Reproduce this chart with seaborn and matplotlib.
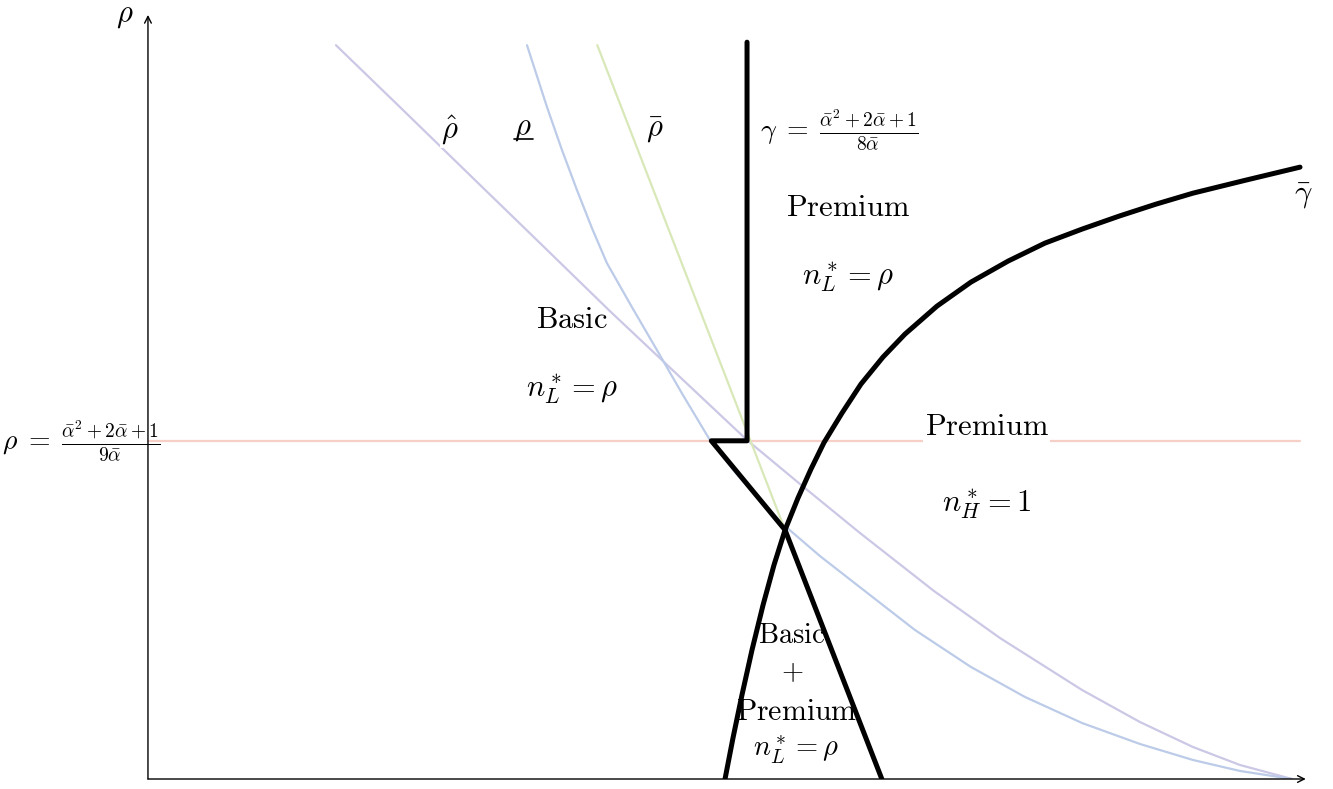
import matplotlib
matplotlib.use("Agg")
import matplotlib.pyplot as plt
import seaborn as sns

sns.set_theme(style="white")
plt.rcParams["mathtext.fontset"] = "cm"
plt.rcParams["font.family"] = ["DejaVu Serif", "DejaVu Sans"]
plt.rcParams["text.color"] = "black"

# axes units: x in [0, 1], rho in [0, 1]
rho_line = 0.459  # rho = (a^2+2a+1)/(9a)

# rho hat (lavender)
rhohat_x = [0.1632, 0.2188, 0.2795, 0.3403, 0.4010, 0.4618, 0.5200, 0.5660, 0.6181, 0.6823,
            0.7396, 0.8108, 0.8611, 0.9071, 0.9479, 0.9931]
rhohat_y = [0.9959, 0.9118, 0.8195, 0.7273, 0.6350, 0.5455, 0.4600, 0.4003, 0.3338, 0.2551,
            0.1913, 0.1208, 0.0773, 0.0434, 0.0190, 0.0]

# underline rho (light blue)
rholow_x = [0.3290, 0.3464, 0.3594, 0.3724, 0.3854, 0.3984, 0.4201, 0.4418, 0.4644, 0.4878,
            0.5095, 0.5313, 0.5530, 0.5833, 0.6189, 0.6658, 0.7144, 0.7613, 0.8108, 0.8611,
            0.9071, 0.9479, 0.9931]
rholow_y = [0.9959, 0.9118, 0.8535, 0.7992, 0.7476, 0.7001, 0.6404, 0.5821, 0.5210, 0.4600,
            0.4166, 0.3772, 0.3433, 0.3026, 0.2592, 0.2022, 0.1520, 0.1113, 0.0760, 0.0475,
            0.0258, 0.0109, 0.0]

# bar rho (light green)
rhobar_x = [0.390, 0.553]
rhobar_y = [0.996, 0.338]

# black frontier: gamma vertical, step, then along rho_low and rho_bar
front_x = [0.520, 0.520, 0.489, 0.553, 0.637]
front_y = [1.000, 0.459, 0.459, 0.338, 0.0]

# gamma bar curve
gbar_x = [0.5009, 0.5078, 0.5156, 0.5243, 0.5339, 0.5434, 0.5530, 0.5642, 0.5755, 0.5868,
          0.6024, 0.6189, 0.6380, 0.6571, 0.6849, 0.7144, 0.7465, 0.7786, 0.8108, 0.8429,
          0.8750, 0.9071, 0.9531, 1.0]
gbar_y = [0.0, 0.0556, 0.1140, 0.1750, 0.2361, 0.2904, 0.3379, 0.3813, 0.4206, 0.4566,
          0.4966, 0.5360, 0.5726, 0.6038, 0.6418, 0.6744, 0.7028, 0.7273, 0.7463, 0.7639,
          0.7802, 0.7951, 0.8128, 0.8304]

fig = plt.figure(figsize=(13.33, 7.89), dpi=100)
ax = fig.add_axes([0.1110, 0.01267, 0.8729, 0.9759])
ax.set_xlim(0, 1.01)
ax.set_ylim(0, 1.045)
ax.axis("off")

thin = 1.6
ax.plot([0, 1.0], [rho_line, rho_line], color="#f6cfc6", lw=thin, zorder=1)
sns.lineplot(x=rhohat_x, y=rhohat_y, sort=False, estimator=None, color="#cbc8e6", lw=thin, ax=ax, zorder=2)
sns.lineplot(x=rholow_x, y=rholow_y, sort=False, estimator=None, color="#bccbe8", lw=thin, ax=ax, zorder=2)
sns.lineplot(x=rhobar_x, y=rhobar_y, sort=False, estimator=None, color="#d9e8b8", lw=thin, ax=ax, zorder=2)
sns.lineplot(x=front_x, y=front_y, sort=False, estimator=None, color="black", lw=3.6, ax=ax, zorder=4)
sns.lineplot(x=gbar_x, y=gbar_y, sort=False, estimator=None, color="black", lw=3.6, ax=ax, zorder=4)

# axes with arrows
arrow = dict(arrowstyle="->", lw=1.0, color="black", shrinkA=0, shrinkB=0)
ax.annotate("", xy=(0, 1.037), xytext=(0, 0), arrowprops=arrow, annotation_clip=False)
ax.annotate("", xy=(1.005, 0), xytext=(0, 0), arrowprops=arrow, annotation_clip=False)

wb = dict(fc="white", ec="none", pad=1)
big = 22
small = 20.5

def lab(x, y, s, size=big, ha="center", box=None):
    ax.text(x, y, s, fontsize=size, ha=ha, va="center", clip_on=False, bbox=box, zorder=5)

lab(-0.020, 1.037, r"$\rho$")
lab(-0.058, rho_line, r"$\rho\;=\;\frac{\bar{\alpha}^2+2\bar{\alpha}+1}{9\bar{\alpha}}$", size=20)
lab(0.262, 0.881, r"$\hat{\rho}$", box=wb)
lab(0.325, 0.884, r"$\rho$", box=wb)
ax.plot([0.318, 0.334], [0.869, 0.869], color="black", lw=1.2, zorder=6)  # underline of rho
lab(0.440, 0.881, r"$\bar{\rho}$", box=wb)
lab(0.531, 0.881, r"$\gamma\;=\;\frac{\bar{\alpha}^2+2\bar{\alpha}+1}{8\bar{\alpha}}$", size=20, ha="left")
lab(0.608, 0.776, r"$\mathrm{Premium}$")
lab(0.608, 0.680, r"$n_L^* = \rho$")
lab(0.368, 0.623, r"$\mathrm{Basic}$")
lab(0.368, 0.528, r"$n_L^* = \rho$")
lab(0.728, 0.478, r"$\mathrm{Premium}$", box=wb)
lab(0.728, 0.372, r"$n_H^* = 1$")
lab(0.559, 0.195, r"$\mathrm{Basic}$", size=small)
lab(0.559, 0.144, r"$+$", size=small)
lab(0.563, 0.091, r"$\mathrm{Premium}$", size=21.5)
lab(0.563, 0.039, r"$n_L^* = \rho$", size=small)
lab(1.003, 0.792, r"$\bar{\gamma}$")

fig.savefig("out.png", dpi=100)
